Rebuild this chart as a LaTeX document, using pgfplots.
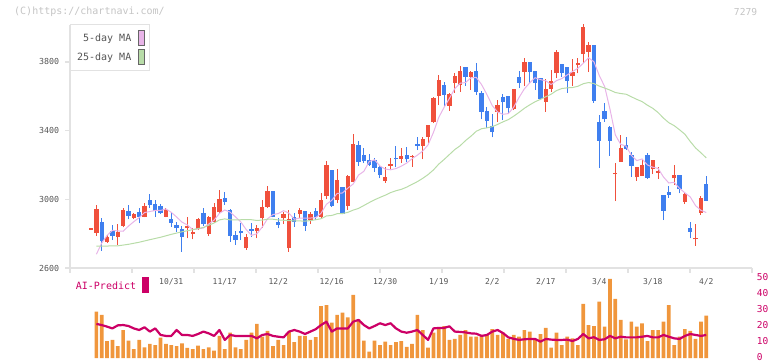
\documentclass[border=0pt]{standalone}
\usepackage{fontspec}
\setmainfont{DejaVu Sans Mono}
\usepackage{pgfplots}
\usepackage{pgfplotstable}
\pgfplotsset{compat=1.18}
\definecolor{cup}{HTML}{F0503C}
\definecolor{cdown}{HTML}{3F7FEF}
\definecolor{mafive}{HTML}{E8B4E8}
\definecolor{matf}{HTML}{B8DCA8}
\definecolor{vol}{HTML}{F0963C}
\definecolor{ai}{HTML}{CC0066}
\definecolor{axgray}{HTML}{E2E2E2}
\definecolor{txtgray}{HTML}{555555}
\definecolor{hdrgray}{HTML}{C4C4C4}

\pgfplotstableread{
x o h l c
0 2822 2831 2822 2831
1 2806 2967 2788 2944
3 2753 2792 2748 2781
5 2781 2854 2734 2808
6 2845 2948 2837 2938
8 2893 2922 2883 2915
10 2899 2977 2895 2961
14 2899 2948 2895 2940
18 2833 2895 2773 2843
19 2800 2831 2767 2810
20 2825 2889 2821 2885
22 2798 2903 2786 2897
23 2870 2977 2864 2953
24 2924 3054 2918 3002
29 2714 2796 2705 2782
31 2815 2850 2773 2831
32 2889 2996 2835 2957
33 2957 3078 2948 3049
36 2893 2928 2856 2914
37 2714 2938 2695 2885
39 2914 2948 2889 2938
41 2880 2924 2856 2913
43 2895 3039 2889 2996
44 3021 3223 3002 3200
46 2996 3175 2977 3113
48 2961 3142 2938 3136
49 3103 3381 3100 3322
55 3109 3186 3097 3130
56 3196 3239 3175 3206
58 3235 3297 3210 3252
60 3245 3258 3190 3254
62 3313 3365 3233 3351
63 3365 3435 3330 3433
64 3448 3594 3443 3592
65 3604 3724 3549 3695
67 3546 3621 3516 3614
68 3679 3734 3621 3718
69 3666 3779 3627 3747
71 3714 3749 3637 3742
76 3511 3578 3452 3549
79 3526 3643 3520 3641
81 3744 3821 3662 3798
85 3569 3699 3511 3643
86 3643 3753 3627 3689
87 3734 3870 3705 3860
90 3720 3817 3662 3740
91 3783 3821 3734 3793
92 3845 4021 3792 4002
93 3860 3918 3740 3899
98 3146 3210 2990 3156
99 3219 3375 3219 3299
102 3128 3188 3109 3186
103 3138 3235 3136 3200
105 3175 3231 3147 3229
106 3155 3190 3118 3165
109 3122 3200 3083 3142
111 2986 3045 2972 3031
113 2767 2856 2730 2777
114 2922 3019 2908 3006
}\upc

\pgfplotstableread{
x o h l c
2 2866 2893 2701 2757
4 2817 2850 2763 2788
7 2932 2967 2883 2903
9 2924 2951 2860 2899
11 2996 3031 2948 2967
12 2973 2996 2899 2932
13 2963 2973 2913 2918
15 2885 2918 2841 2864
16 2850 2870 2812 2831
17 2825 2845 2695 2782
21 2920 2948 2847 2854
25 3010 3045 2967 2986
26 2938 2942 2753 2788
27 2792 2817 2734 2763
28 2815 2864 2763 2802
30 2827 2860 2782 2817
34 3049 3049 2895 2899
35 2870 2889 2831 2850
38 2897 2922 2841 2870
40 2932 2934 2815 2847
42 2932 2948 2880 2899
45 3171 3171 2957 2961
47 3072 3074 2912 2914
50 3316 3340 3196 3219
51 3258 3301 3210 3223
52 3229 3262 3196 3200
53 3229 3239 3161 3184
54 3186 3200 3122 3142
57 3243 3311 3186 3233
59 3258 3307 3219 3233
61 3322 3361 3287 3313
66 3666 3685 3540 3608
70 3773 3773 3662 3714
72 3749 3792 3608 3627
73 3621 3633 3466 3511
74 3516 3540 3414 3458
75 3427 3497 3361 3394
77 3598 3614 3462 3565
78 3602 3604 3505 3530
80 3711 3747 3646 3679
82 3798 3798 3679 3744
83 3747 3749 3637 3679
84 3705 3705 3578 3584
88 3788 3790 3714 3738
89 3769 3771 3621 3691
94 3899 3899 3563 3575
95 3448 3491 3184 3342
96 3514 3559 3452 3466
97 3419 3427 3254 3342
100 3316 3365 3287 3293
101 3258 3278 3132 3196
104 3258 3272 3118 3126
107 3025 3027 2879 2934
108 3042 3077 3010 3027
110 3142 3144 3035 3058
112 2831 2870 2773 2811
115 3089 3136 2990 2992
}\downc

\pgfplotstableread{
x v
1 2680
2 2745
3 2790
4 2819
5 2816
6 2814
7 2844
8 2870
9 2893
10 2923
11 2929
12 2935
13 2935
14 2944
15 2924
16 2897
17 2867
18 2851
19 2824
20 2828
21 2833
22 2856
23 2879
24 2918
25 2938
26 2925
27 2898
28 2868
29 2824
30 2790
31 2799
32 2838
33 2887
34 2911
35 2917
36 2934
37 2919
38 2884
39 2891
40 2891
41 2891
42 2893
43 2919
44 2971
45 2994
46 3034
47 3037
48 3065
49 3089
50 3141
51 3163
52 3220
53 3230
54 3194
55 3176
56 3172
57 3179
58 3193
59 3211
60 3236
61 3257
62 3281
63 3317
64 3389
65 3477
66 3536
67 3588
68 3645
69 3676
70 3680
71 3707
72 3710
73 3668
74 3610
75 3546
76 3508
77 3495
78 3499
79 3536
80 3593
81 3643
82 3678
83 3708
84 3697
85 3690
86 3668
87 3691
88 3703
89 3724
90 3744
91 3763
92 3792
93 3824
94 3801
95 3721
96 3657
97 3525
98 3375
99 3320
100 3310
101 3256
102 3225
103 3235
104 3200
105 3187
106 3180
107 3130
108 3095
109 3099
110 3064
111 3038
112 3014
113 2963
114 2936
115 2923
}\mafivet

\pgfplotstableread{
x v
1 2728
3 2728
5 2729
7 2738
9 2750
11 2765
13 2779
15 2796
17 2811
19 2823
21 2836
23 2862
24 2880
25 2886
26 2880
27 2880
28 2881
29 2881
30 2881
31 2877
32 2879
33 2884
34 2884
35 2880
36 2878
37 2876
38 2874
39 2874
40 2873
41 2876
42 2881
43 2887
44 2903
45 2906
46 2916
47 2917
48 2924
49 2937
50 2947
51 2964
52 2981
53 2997
54 3011
55 3024
56 3039
57 3050
58 3058
59 3071
60 3087
61 3103
62 3122
63 3144
64 3171
65 3205
66 3232
67 3261
68 3290
69 3312
70 3342
71 3367
72 3396
73 3411
74 3416
75 3423
76 3436
77 3451
78 3464
79 3484
80 3506
81 3530
82 3550
83 3568
84 3582
85 3597
86 3612
87 3633
88 3645
89 3649
90 3651
91 3658
92 3673
93 3680
94 3674
95 3659
96 3648
97 3636
98 3622
99 3616
100 3612
101 3597
102 3582
103 3569
104 3548
105 3530
106 3505
107 3473
108 3446
109 3429
110 3405
111 3379
112 3337
113 3299
114 3271
115 3241
}\matft

\pgfplotstableread{
x v
1 29.0
2 26.9
3 10.6
4 11.3
5 7.5
6 17.5
7 10.8
8 5.6
9 11.3
10 6.7
11 8.8
12 8.1
13 12.7
14 8.8
15 8.1
16 7.5
17 9.2
18 6.3
19 5.6
20 7.7
21 5.6
22 6.7
23 4.6
24 13.8
25 5.6
26 15.8
27 6.7
28 5.6
29 11.3
30 15.8
31 21.3
32 13.3
33 16.9
34 7.5
35 11.3
36 8.1
37 16.5
38 10.0
39 13.8
40 13.8
41 11.3
42 13.1
43 32.5
44 33.1
45 22.1
46 26.9
47 28.3
48 25.4
49 39.4
50 24.2
51 10.8
52 4.0
53 10.8
54 8.1
55 10.2
56 8.1
57 10.0
58 10.6
59 6.9
60 8.8
61 26.9
62 17.5
63 6.5
64 15.8
65 19.0
66 20.0
67 11.3
68 11.9
69 14.4
70 17.5
71 13.3
72 13.3
73 14.4
74 15.0
75 18.1
76 14.4
77 15.8
78 11.9
79 14.4
80 13.3
81 17.5
82 16.5
83 11.9
84 15.0
85 18.8
86 6.5
87 15.8
88 8.1
89 13.3
90 12.3
91 8.1
92 33.8
93 20.6
94 20.0
95 35.2
96 19.6
97 49.4
98 36.9
99 23.8
100 11.7
101 22.7
102 19.6
103 21.7
104 10.6
105 17.5
106 17.5
107 22.7
108 33.1
109 8.1
110 13.3
111 18.1
112 16.9
113 12.0
114 22.7
115 26.5
}\volt

\pgfplotstableread{
x v
1 21.3
2 20.6
3 19.6
4 18.5
5 20.4
6 20.6
7 20.0
8 18.5
9 17.5
10 19.2
11 16.5
12 18.5
13 14.4
14 13.8
15 13.8
16 17.5
17 14.4
18 14.4
19 13.8
20 15.0
21 16.5
22 15.4
23 13.8
24 17.5
25 11.3
26 14.4
27 13.8
28 13.8
29 13.8
30 13.8
31 12.3
32 14.4
33 15.0
34 13.8
35 13.3
36 12.9
37 16.5
38 17.5
39 16.5
40 15.0
41 16.5
42 18.0
43 20.6
44 22.7
45 16.5
46 18.5
47 18.5
48 18.5
49 22.7
50 23.8
51 20.6
52 18.5
53 20.0
54 21.7
55 20.6
56 21.7
57 18.5
58 16.5
59 15.8
60 16.5
61 17.5
62 14.4
63 11.3
64 18.5
65 18.8
66 18.8
67 19.8
68 16.5
69 16.3
70 16.0
71 15.4
72 15.2
73 13.8
74 14.4
75 16.5
76 17.5
77 15.6
78 12.9
79 12.0
80 11.3
81 11.7
82 11.9
83 11.9
84 10.2
85 11.9
86 11.5
87 11.3
88 11.3
89 11.5
90 10.6
91 11.9
92 15.0
93 12.3
94 13.0
95 11.3
96 11.7
97 13.8
98 12.3
99 13.3
100 12.9
101 12.9
102 12.9
103 13.3
104 13.8
105 12.9
106 12.9
107 14.4
108 13.3
109 12.3
110 11.9
111 13.8
112 15.0
113 14.4
114 13.8
115 14.4
}\ait

\begin{document}
\begin{tikzpicture}[x=1bp,y=1bp]
\useasboundingbox (0,0) rectangle (772,361);
\node[anchor=west, inner sep=0pt, text=hdrgray, font=\fontsize{10bp}{12bp}\selectfont] at (14,349) {(C)https://chartnavi.com/};
\node[anchor=east, inner sep=0pt, text=hdrgray, font=\fontsize{9.6bp}{12bp}\selectfont] at (757.3,349.3) {7279};

\begin{axis}[
  at={(70bp,93bp)}, anchor=south west, scale only axis,
  width=682bp, height=243bp,
  xmin=-3.93, xmax=123.55, ymin=2600, ymax=4015,
  clip=false,
  axis x line*=bottom, axis y line*=left,
  axis line style={draw=axgray, line width=1.5bp, -},
  tick align=outside, major tick length=5bp,
  tick style={draw=axgray, line width=1.3bp},
  ytick={2600,3000,3400,3800},
  yticklabels={2600,3000,3400,3800},
  yticklabel style={anchor=east, inner sep=0pt, xshift=-5.7bp, text=txtgray, font=\fontsize{8.3bp}{10bp}\selectfont},
  xtick={-3.93,7.66,19.25,30.84,42.43,54.02,65.61,77.20,88.79,100.37,111.96,123.55},
  xticklabels={},
  extra x ticks={15,25,35,45,55,65,75,85,95,105,115},
  extra x tick labels={10/31,11/17,12/2,12/16,12/30,1/19,2/2,2/17,3/4,3/18,4/2},
  extra x tick style={major tick length=0pt},
  xticklabel style={anchor=north, inner sep=0pt, yshift=-10bp, text=txtgray, font=\fontsize{8bp}{10bp}\selectfont},
  legend plot pos=right,
  legend cell align=right,
  legend style={at={(0,1.004)}, anchor=north west, draw=axgray, line width=1.2bp, fill=white,
    font=\fontsize{10bp}{12bp}\selectfont, text=txtgray, inner xsep=4.5bp, inner ysep=5.5bp,
    row sep=3.5bp, column sep=5bp},
]
\addplot[forget plot, draw=none, mark=none, error bars/.cd, y dir=plus, y explicit, error mark=none,
  error bar style={draw=cup, line width=1bp}]
  table[x=x, y=l, y error expr=\thisrow{h}-\thisrow{l}] {\upc};
\addplot[forget plot, draw=none, mark=none, error bars/.cd, y dir=plus, y explicit, error mark=none,
  error bar style={draw=cup, line width=4.3bp}]
  table[x=x, y=o, y error expr=\thisrow{c}-\thisrow{o}] {\upc};
\addplot[forget plot, draw=none, mark=none, error bars/.cd, y dir=plus, y explicit, error mark=none,
  error bar style={draw=cdown, line width=1bp}]
  table[x=x, y=l, y error expr=\thisrow{h}-\thisrow{l}] {\downc};
\addplot[forget plot, draw=none, mark=none, error bars/.cd, y dir=plus, y explicit, error mark=none,
  error bar style={draw=cdown, line width=4.3bp}]
  table[x=x, y=c, y error expr=\thisrow{o}-\thisrow{c}] {\downc};
\addplot[mafive, line width=1bp, mark=none,
  legend image code/.code={\draw[draw=black!60, line width=0.8bp, fill=mafive] (0bp,-7.5bp) rectangle (6bp,7.5bp);}]
  table[x=x, y=v] {\mafivet};
\addlegendentry{5-day MA}
\addplot[matf, line width=1bp, mark=none,
  legend image code/.code={\draw[draw=black!60, line width=0.8bp, fill=matf] (0bp,-7.5bp) rectangle (6bp,7.5bp);}]
  table[x=x, y=v] {\matft};
\addlegendentry{25-day MA}
\end{axis}

\begin{axis}[
  at={(70bp,3bp)}, anchor=south west, scale only axis,
  width=682bp, height=80bp,
  xmin=-3.93, xmax=123.55, ymin=0, ymax=50,
  clip=false,
  axis x line=none, axis y line*=right,
  y axis line style={draw=none},
  ytick={0,10,20,30,40,50},
  yticklabels={0,10,20,30,40,50},
  major tick length=0pt,
  yticklabel style={anchor=west, inner sep=0pt, xshift=4.7bp, yshift=1.2bp, text=ai, font=\fontsize{9.5bp}{11bp}\selectfont},
]
\addplot[ybar, bar width=3.7bp, bar shift=0pt, fill=vol, draw=none] table[x=x, y=v] {\volt};
\addplot[ai, line width=2.2bp, mark=none, line join=round] table[x=x, y=v] {\ait};
\end{axis}

\node[anchor=west, inner sep=0pt, text=ai, font=\fontsize{10bp}{12bp}\selectfont] at (75.7,75) {AI-Predict};
\fill[ai] (142,68.3) rectangle (148.7,84.3);
\end{tikzpicture}
\end{document}
